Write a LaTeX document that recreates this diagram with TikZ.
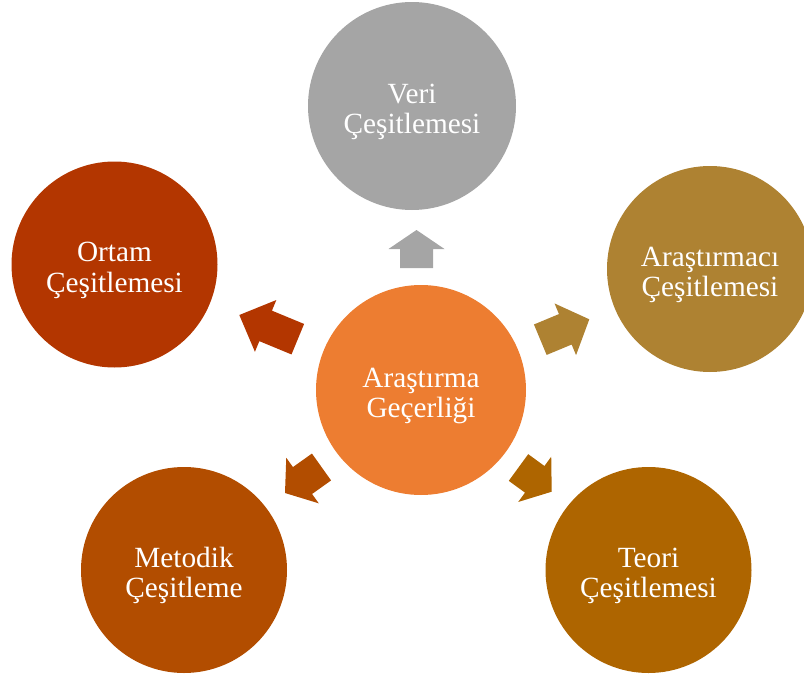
\documentclass[tikz,border=0pt]{standalone}
\usepackage{fontspec}
\setmainfont{Liberation Serif}
\usetikzlibrary{calc}

\definecolor{cOrange}{HTML}{ED7D31}
\definecolor{cGray}{HTML}{A5A5A5}
\definecolor{cGold}{HTML}{AE8232}
\definecolor{cTeori}{HTML}{AE6500}
\definecolor{cMetod}{HTML}{B24D00}
\definecolor{cOrtam}{HTML}{B33600}

% strut on the first line sets the two-line label a little lower in its circle
\newcommand\toplinestrut{\rule{0pt}{31pt}}

\tikzset{
  bubble/.style={circle, draw=none, inner sep=0pt, text=white, align=center,
    font=\fontsize{29.3}{30.5}\selectfont},
}

% Block arrow from tail coordinate #1 to tip coordinate #2,
% head length #3, fill colour #4
\newcommand\blockarrow[4]{%
  \coordinate (#1-h) at ($(#2)!#3!(#1)$);
  \fill[#4] ($(#1)!16.5pt!90:(#2)$)
    -- ($(#1-h)!16.5pt!90:(#2)$)
    -- ($(#1-h)!28pt!90:(#2)$)
    -- (#2)
    -- ($(#1-h)!28pt!-90:(#2)$)
    -- ($(#1-h)!16.5pt!-90:(#2)$)
    -- ($(#1)!16.5pt!-90:(#2)$) -- cycle;
}

\begin{document}
\begin{tikzpicture}[x=1pt, y=-1pt]
  \useasboundingbox (0,0) rectangle (804,675);
  \clip (0,0) rectangle (804,675);

  % circles
  \node[bubble, fill=cOrange, minimum size=210] (core) at (421,390) {\toplinestrut Araştırma\\Geçerliği};
  \node[bubble, fill=cGray,   minimum size=208] (veri) at (412,106) {\toplinestrut Veri\\Çeşitlemesi};
  \node[bubble, fill=cGold,   minimum size=206] (arst) at (710,269) {\toplinestrut Araştırmacı\\Çeşitlemesi};
  \node[bubble, fill=cTeori,  minimum size=206] (teori) at (648.5,570) {\toplinestrut Teori\\Çeşitlemesi};
  \node[bubble, fill=cMetod,  minimum size=206] (metod) at (184,570) {\toplinestrut Metodik\\Çeşitleme};
  \node[bubble, fill=cOrtam,  minimum size=206] (ortam) at (114.5,264.5) {\toplinestrut Ortam\\Çeşitlemesi};

  % arrow tails and tips
  \coordinate (aV) at (416.5,268);   \coordinate (aVp) at (416.5,230);
  \coordinate (aA) at (540.3,339.7); \coordinate (aAp) at (589.3,319.3);
  \coordinate (aT) at (518.5,467.5); \coordinate (aTp) at (551.7,491.7);
  \coordinate (aM) at (321.5,467);   \coordinate (aMp) at (285,493);
  \coordinate (aO) at (297.8,339.2); \coordinate (aOp) at (239.3,315);

  \blockarrow{aV}{aVp}{19pt}{cGray}
  \blockarrow{aA}{aAp}{26pt}{cGold}
  \blockarrow{aT}{aTp}{21pt}{cTeori}
  \blockarrow{aM}{aMp}{21.5pt}{cMetod}
  \blockarrow{aO}{aOp}{28.5pt}{cOrtam}
\end{tikzpicture}
\end{document}
